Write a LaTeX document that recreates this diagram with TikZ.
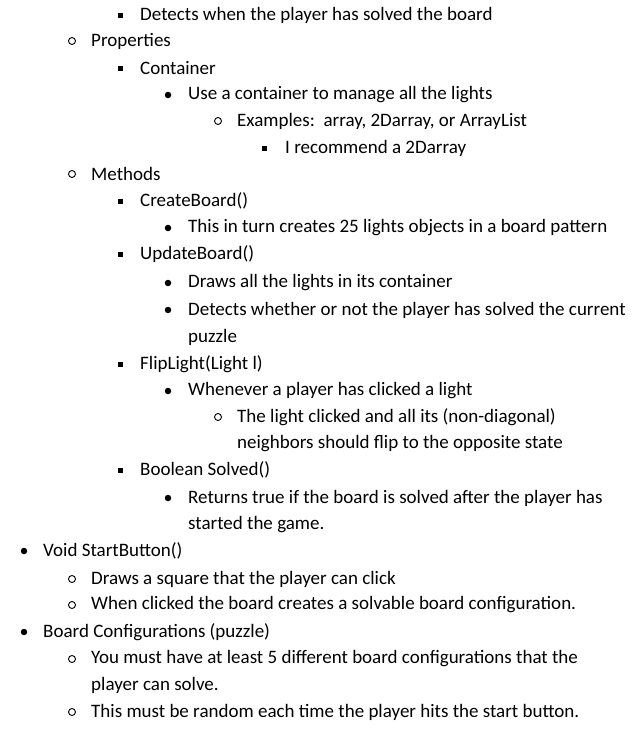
\documentclass[tikz,border=0pt]{standalone}
\usepackage{fontspec}
\setmainfont{Carlito}
\tikzset{txt/.style={anchor=west,inner sep=0pt,font=\fontsize{19}{22}\selectfont},
sq/.style={fill=black,minimum size=5pt,inner sep=0pt},
dot/.style={circle,fill=black,minimum size=6.5pt,inner sep=0pt},
ring/.style={circle,draw=black,line width=0.9pt,minimum size=7pt,inner sep=0pt}}
\newcommand\itm[6]{\node[#2] (b#1) at (#3,#5) {};\node[txt] (t#1) at (#4,#5) {#6};}
\newcommand\cont[4]{\node[txt] (t#1) at (#2,#3) {#4};}
\begin{document}
\begin{tikzpicture}[x=1pt,y=-1pt]
\useasboundingbox[fill=white] (0,0) rectangle (638,731);
\itm{1}{sq}{120}{140}{15}{Detects when the player has solved the board}
\itm{2}{ring}{72}{91}{41}{Properties}
\itm{3}{sq}{120}{140}{68}{Container}
\itm{4}{dot}{168}{188}{95}{Use a container to manage all the lights}
\itm{5}{ring}{218}{237}{121}{Examples:\ \ array, 2Darray, or ArrayList}
\itm{6}{sq}{264}{285}{148}{I recommend a 2Darray}
\itm{7}{ring}{72}{91}{174}{Methods}
\itm{8}{sq}{120}{140}{201}{CreateBoard()}
\itm{9}{dot}{168}{188}{228}{This in turn creates 25 lights objects in a board pattern}
\itm{10}{sq}{120}{140}{254}{UpdateBoard()}
\itm{11}{dot}{168}{188}{283}{Draws all the lights in its container}
\itm{12}{dot}{168}{188}{310}{Detects whether or not the player has solved the current}
\cont{13}{188}{337}{puzzle}
\itm{14}{sq}{120}{140}{364}{FlipLight(Light l)}
\itm{15}{dot}{168}{188}{391}{Whenever a player has clicked a light}
\itm{16}{ring}{218}{237}{417}{The light clicked and all its (non-diagonal)}
\cont{17}{237}{444}{neighbors should flip to the opposite state}
\itm{18}{sq}{120}{140}{470}{Boolean Solved()}
\itm{19}{dot}{168}{188}{498}{Returns true if the board is solved after the player has}
\cont{20}{188}{525}{started the game.}
\itm{21}{dot}{24}{43}{551}{Void StartButton()}
\itm{22}{ring}{72}{91}{579}{Draws a square that the player can click}
\itm{23}{ring}{72}{91}{605}{When clicked the board creates a solvable board configuration.}
\itm{24}{dot}{24}{43}{632}{Board Configurations (puzzle)}
\itm{25}{ring}{72}{91}{659}{You must have at least 5 different board configurations that the}
\cont{26}{91}{685}{player can solve.}
\itm{27}{ring}{72}{91}{712}{This must be random each time the player hits the start button.}
\end{tikzpicture}
\end{document}
